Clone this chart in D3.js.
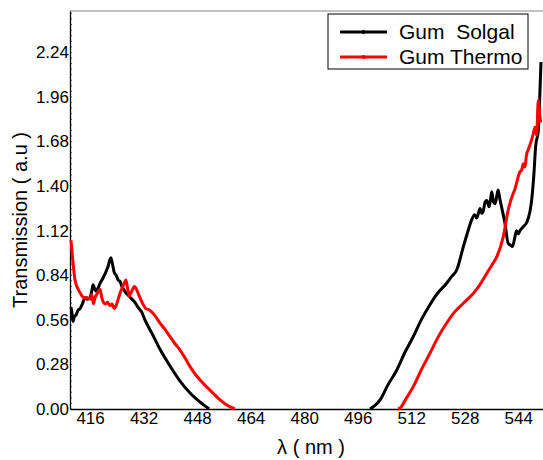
<!DOCTYPE html>
<html>
<head>
<meta charset="utf-8">
<script src="https://cdn.jsdelivr.net/npm/d3@7"></script>
<style>
  body { margin: 0; background: #fff; }
  text { font-family: "Liberation Sans", Arial, sans-serif; }
</style>
</head>
<body>
<svg id="chart" width="543" height="460"></svg>
<script>
// wavelength (nm) and transmission readings, Gum Solgal
var solgalNm = [410.3, 410.6, 410.9, 411.3, 411.8, 412.4, 413, 413.7, 414.5, 415.2, 416, 416.5, 416.9, 417.3, 417.8, 418.4, 419, 419.8, 420.5, 421.3, 422.2, 422.7, 423.2, 423.8, 424.4, 425, 425.5, 426.1, 426.7, 427.6, 428.5, 429.4, 430.3, 431.4, 432.4, 434.5, 436.9, 439.9, 442.9, 445.9, 448.9, 451.6,
  499.7, 502.7, 505, 507.7, 510, 512.6, 515, 517.6, 520, 522.6, 524, 525.6, 527.6, 529, 530.1, 531, 531.6, 532.6, 533.1, 533.5, 534.1, 534.6, 535.3, 535.8, 536.1, 536.6, 537.1, 537.6, 538, 538.5, 539, 540, 541, 541.6, 542.3, 543, 543.5, 544, 544.5, 545.5, 546.5, 547.5, 548, 548.7, 549.2, 550, 550.5, 550.8];
var solgalT = [0.64, 0.60, 0.55, 0.58, 0.59, 0.62, 0.63, 0.66, 0.70, 0.69, 0.70, 0.74, 0.78, 0.76, 0.74, 0.76, 0.79, 0.82, 0.85, 0.89, 0.95, 0.91, 0.86, 0.84, 0.81, 0.80, 0.77, 0.75, 0.73, 0.71, 0.69, 0.67, 0.64, 0.61, 0.56, 0.475, 0.375, 0.27, 0.175, 0.10, 0.043, 0,
  0, 0.057, 0.15, 0.245, 0.35, 0.454, 0.56, 0.655, 0.73, 0.79, 0.83, 0.873, 1.02, 1.12, 1.19, 1.22, 1.20, 1.26, 1.23, 1.24, 1.30, 1.31, 1.27, 1.33, 1.365, 1.30, 1.29, 1.34, 1.375, 1.32, 1.27, 1.17, 1.04, 1.03, 1.02, 1.08, 1.12, 1.10, 1.12, 1.145, 1.17, 1.24, 1.31, 1.48, 1.65, 1.75, 2.0, 2.18];

// Gum Thermo
var thermoNm = [410.3, 410.8, 411.5, 412.5, 413.3, 414, 415, 416, 416.5, 417, 417.5, 418, 418.5, 419, 419.5, 420, 420.5, 421.2, 422, 422.6, 423.2, 423.8, 424.4, 425, 425.6, 426.2, 426.7, 427.2, 427.7, 428.2, 428.7, 429.2, 429.7, 430.3, 430.9, 431.8, 432.7, 433.5, 434.4, 435.6, 436.9, 438.4, 439.9, 441.4, 442.9, 444.4, 445.9, 447.4, 448.9, 450.8, 452.8, 454.7, 456.5, 459.3,
  508.1, 508.7, 510.6, 512.6, 515, 517.6, 520, 522.6, 525, 527.6, 530.6, 532.5, 534.6, 536, 537.6, 539.5, 541, 542.5, 543, 543.5, 544, 544.5, 545, 545.5, 546, 546.5, 547, 548, 548.5, 549, 549.5, 550, 550.4, 550.7];
var thermoT = [1.06, 0.94, 0.81, 0.75, 0.72, 0.70, 0.70, 0.69, 0.72, 0.66, 0.70, 0.72, 0.74, 0.75, 0.70, 0.67, 0.66, 0.67, 0.65, 0.66, 0.63, 0.65, 0.69, 0.73, 0.76, 0.79, 0.81, 0.76, 0.71, 0.73, 0.75, 0.77, 0.76, 0.73, 0.70, 0.66, 0.63, 0.625, 0.61, 0.58, 0.54, 0.50, 0.454, 0.41, 0.37, 0.32, 0.266, 0.22, 0.182, 0.14, 0.099, 0.06, 0.03, 0,
  0, 0.006, 0.07, 0.14, 0.245, 0.35, 0.45, 0.54, 0.61, 0.664, 0.727, 0.78, 0.852, 0.90, 0.957, 1.08, 1.25, 1.355, 1.38, 1.42, 1.46, 1.49, 1.50, 1.54, 1.52, 1.60, 1.63, 1.69, 1.73, 1.77, 1.72, 1.94, 1.85, 1.80];

var yTicks = [0, 0.28, 0.56, 0.84, 1.12, 1.40, 1.68, 1.96, 2.24];
var xTicks = [416, 432, 448, 464, 480, 496, 512, 528, 544];
var seriesNames = ["Gum  Solgal", "Gum Thermo"];
var seriesColors = ["#000000", "#ff0000"];

var svg = d3.select("#chart");

var x = d3.scaleLinear().domain([410, 552]).range([70, 545]);
var y = d3.scaleLinear().domain([0, 2.5]).range([409, 11]);

// top frame line
svg.append("line")
  .attr("x1", 70).attr("x2", 543)
  .attr("y1", 11).attr("y2", 11)
  .attr("stroke", "#888").attr("stroke-width", 1.2);

// y axis
var yAxis = svg.append("g")
  .attr("transform", "translate(70,0)")
  .call(d3.axisLeft(y).tickValues(yTicks).tickSize(0).tickPadding(1).tickFormat(d3.format(".2f")));
yAxis.select(".domain").attr("stroke", "#000").attr("stroke-width", 1.3);
yAxis.selectAll("text").style("font-size", "17px").attr("fill", "#000");

// x axis
var xAxis = svg.append("g")
  .attr("transform", "translate(0,409)")
  .call(d3.axisBottom(x).tickValues(xTicks).tickSize(0).tickPadding(3).tickFormat(d3.format("d")));
xAxis.select(".domain").attr("stroke", "#000").attr("stroke-width", 1.3);
xAxis.selectAll("text").style("font-size", "17px").attr("fill", "#000");

// tiny minor ticks that make the axes look dotted
var minorY = d3.range(0, 2.5, 0.035);
svg.append("g").selectAll("line").data(minorY).enter().append("line")
  .attr("x1", 70).attr("x2", 72)
  .attr("y1", function (d) { return y(d); }).attr("y2", function (d) { return y(d); })
  .attr("stroke", "#000").attr("stroke-width", 0.6);

// curves
var line = d3.line()
  .curve(d3.curveMonotoneX)
  .x(function (d) { return x(d[0]); })
  .y(function (d) { return y(d[1]); });

var segments = [
  { c: 0, nm: solgalNm, t: solgalT },
  { c: 1, nm: thermoNm, t: thermoT }
];

segments.forEach(function (s) {
  var pts = s.nm.map(function (n, i) { return [n, s.t[i]]; });
  // split at the gap between the two visible branches
  var parts = [[]];
  pts.forEach(function (p, i) {
    if (i > 0 && p[0] - pts[i - 1][0] > 20) parts.push([]);
    parts[parts.length - 1].push(p);
  });
  parts.forEach(function (part) {
    svg.append("path")
      .datum(part)
      .attr("d", line)
      .attr("fill", "none")
      .attr("stroke", seriesColors[s.c])
      .attr("stroke-width", 3)
      .attr("stroke-linejoin", "round");
  });
});

// legend
var legend = svg.append("g");
legend.append("rect")
  .attr("x", 328).attr("y", 14)
  .attr("width", 200).attr("height", 55)
  .attr("fill", "#fff").attr("stroke", "#000").attr("stroke-width", 1);

seriesNames.forEach(function (name, i) {
  var ly = 32 + i * 25;
  legend.append("line")
    .attr("x1", 340).attr("x2", 387)
    .attr("y1", ly).attr("y2", ly)
    .attr("stroke", seriesColors[i]).attr("stroke-width", 3);
  legend.append("circle")
    .attr("cx", 363.5).attr("cy", ly).attr("r", 2)
    .attr("fill", seriesColors[i]);
  legend.append("text")
    .attr("x", 399).attr("y", ly + 7)
    .style("font-size", "21px")
    .style("white-space", "pre")
    .attr("xml:space", "preserve")
    .text(name);
});

// axis titles
svg.append("text")
  .attr("x", 311).attr("y", 454)
  .attr("text-anchor", "middle")
  .style("font-size", "20px")
  .text("λ ( nm )");

svg.append("text")
  .attr("transform", "translate(27,220) rotate(-90)")
  .attr("text-anchor", "middle")
  .style("font-size", "20px")
  .text("Transmission ( a.u )");
</script>
</body>
</html>
